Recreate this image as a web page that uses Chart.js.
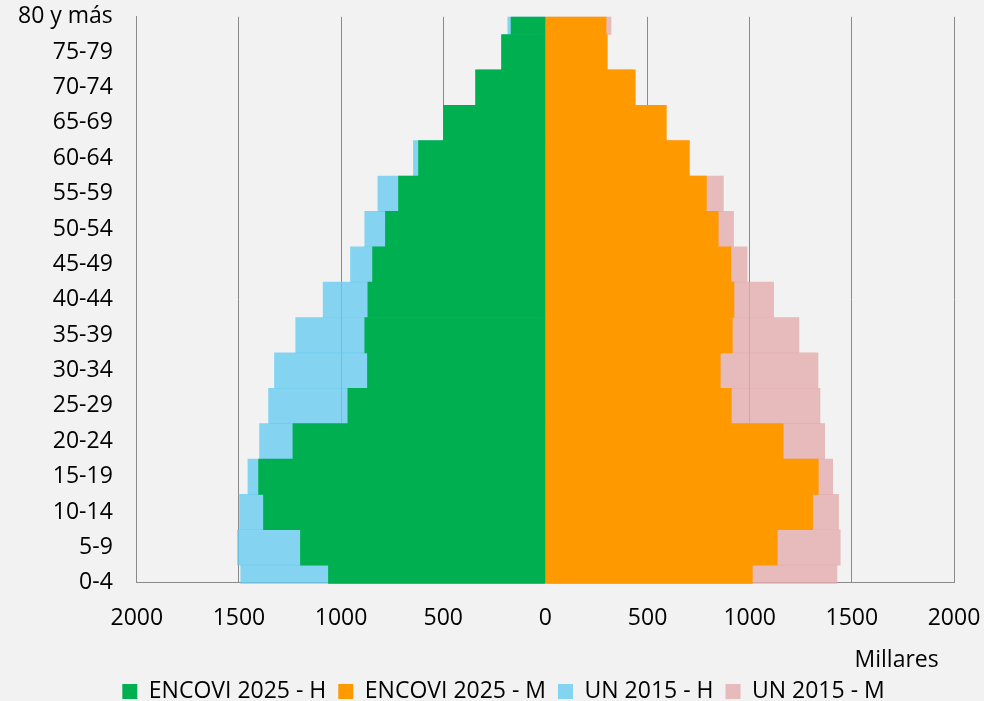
<!DOCTYPE html>
<html>
<head>
<meta charset="utf-8">
<title>Pirámide de población</title>
<script src="https://cdn.jsdelivr.net/npm/chart.js@4.4.1/dist/chart.umd.min.js"></script>
<style>
  html, body { margin: 0; padding: 0; background: #f2f2f2; }
  #contenedor { width: 984px; height: 701px; }
</style>
</head>
<body>
<div id="contenedor"><canvas id="piramide"></canvas></div>
<script>
// grupos de edad, de abajo hacia arriba
const grupos = ['0-4', '5-9', '10-14', '15-19', '20-24', '25-29', '30-34', '35-39', '40-44',
  '45-49', '50-54', '55-59', '60-64', '65-69', '70-74', '75-79', '80 y más'];

// miles de personas
const encoviH = [1062, 1199, 1380, 1404, 1236, 967, 871, 884, 869, 846, 783, 719, 621, 499, 342, 215, 168];
const encoviM = [1013, 1135, 1308, 1336, 1164, 910, 856, 915, 923, 908, 846, 788, 703, 592, 440, 303, 297];
const unH = [1491, 1507, 1497, 1456, 1399, 1355, 1326, 1222, 1088, 954, 884, 820, 646, 480, 330, 205, 184];
const unM = [1427, 1443, 1435, 1406, 1367, 1344, 1334, 1241, 1117, 987, 921, 871, 706, 575, 425, 295, 321];

const ticksX = [-2000, -1500, -1000, -500, 0, 500, 1000, 1500, 2000];

const fuente = { family: "'Open Sans', sans-serif", size: 23 };
const gris = '#8a8a8a';

// corre la leyenda un poco a la derecha, como en el original
const moverLeyenda = {
  id: 'moverLeyenda',
  afterLayout(chart) {
    const ley = chart.legend;
    if (ley) {
      ley.left += 19;
      ley.right += 19;
    }
  }
};

const ctx = document.getElementById('piramide').getContext('2d');

new Chart(ctx, {
  type: 'bar',
  data: {
    labels: grupos,
    datasets: [
      { label: 'ENCOVI 2025 - H', data: encoviH.map(v => -v), backgroundColor: '#00b050' },
      { label: 'ENCOVI 2025 - M', data: encoviM, backgroundColor: '#ff9900' },
      { label: 'UN 2015 - H', data: unH.map(v => -v), backgroundColor: 'rgba(103,202,240,0.8)' },
      { label: 'UN 2015 - M', data: unM, backgroundColor: 'rgba(227,171,173,0.8)' }
    ]
  },
  plugins: [moverLeyenda],
  options: {
    indexAxis: 'y',
    responsive: true,
    maintainAspectRatio: false,
    animation: false,
    layout: { padding: { left: 15, top: 1, right: 30, bottom: -12 } },
    datasets: {
      bar: {
        grouped: false,
        barPercentage: 1,
        categoryPercentage: 1,
        borderWidth: 0,
        clip: { left: 0, top: 0, right: 0, bottom: 1 }
      }
    },
    scales: {
      x: {
        min: -2000,
        max: 2000,
        afterBuildTicks: (scale) => {
          scale.ticks = ticksX.map(v => ({ value: v }));
        },
        ticks: {
          color: '#000',
          font: fuente,
          padding: 0,
          maxRotation: 0,
          callback: (v) => Math.abs(v)
        },
        // marcas invisibles: solo separan las etiquetas del eje
        grid: { color: gris, lineWidth: 1, drawTicks: true, tickLength: 22, tickColor: 'rgba(0,0,0,0)' },
        border: { color: gris },
        title: {
          display: true,
          text: 'Millares\u2002\u2009',
          align: 'end',
          color: '#000',
          font: fuente,
          padding: { top: 14, bottom: -6 }
        }
      },
      y: {
        reverse: true,
        offset: false,
        ticks: { color: '#000', font: fuente, padding: 3, autoSkip: false },
        grid: { display: false, drawTicks: true, tickLength: 21 },
        border: { color: gris }
      }
    },
    plugins: {
      legend: {
        position: 'bottom',
        labels: {
          color: '#000',
          font: fuente,
          boxWidth: 15,
          boxHeight: 15,
          padding: 12
        }
      },
      tooltip: { enabled: false }
    }
  }
});
</script>
</body>
</html>
